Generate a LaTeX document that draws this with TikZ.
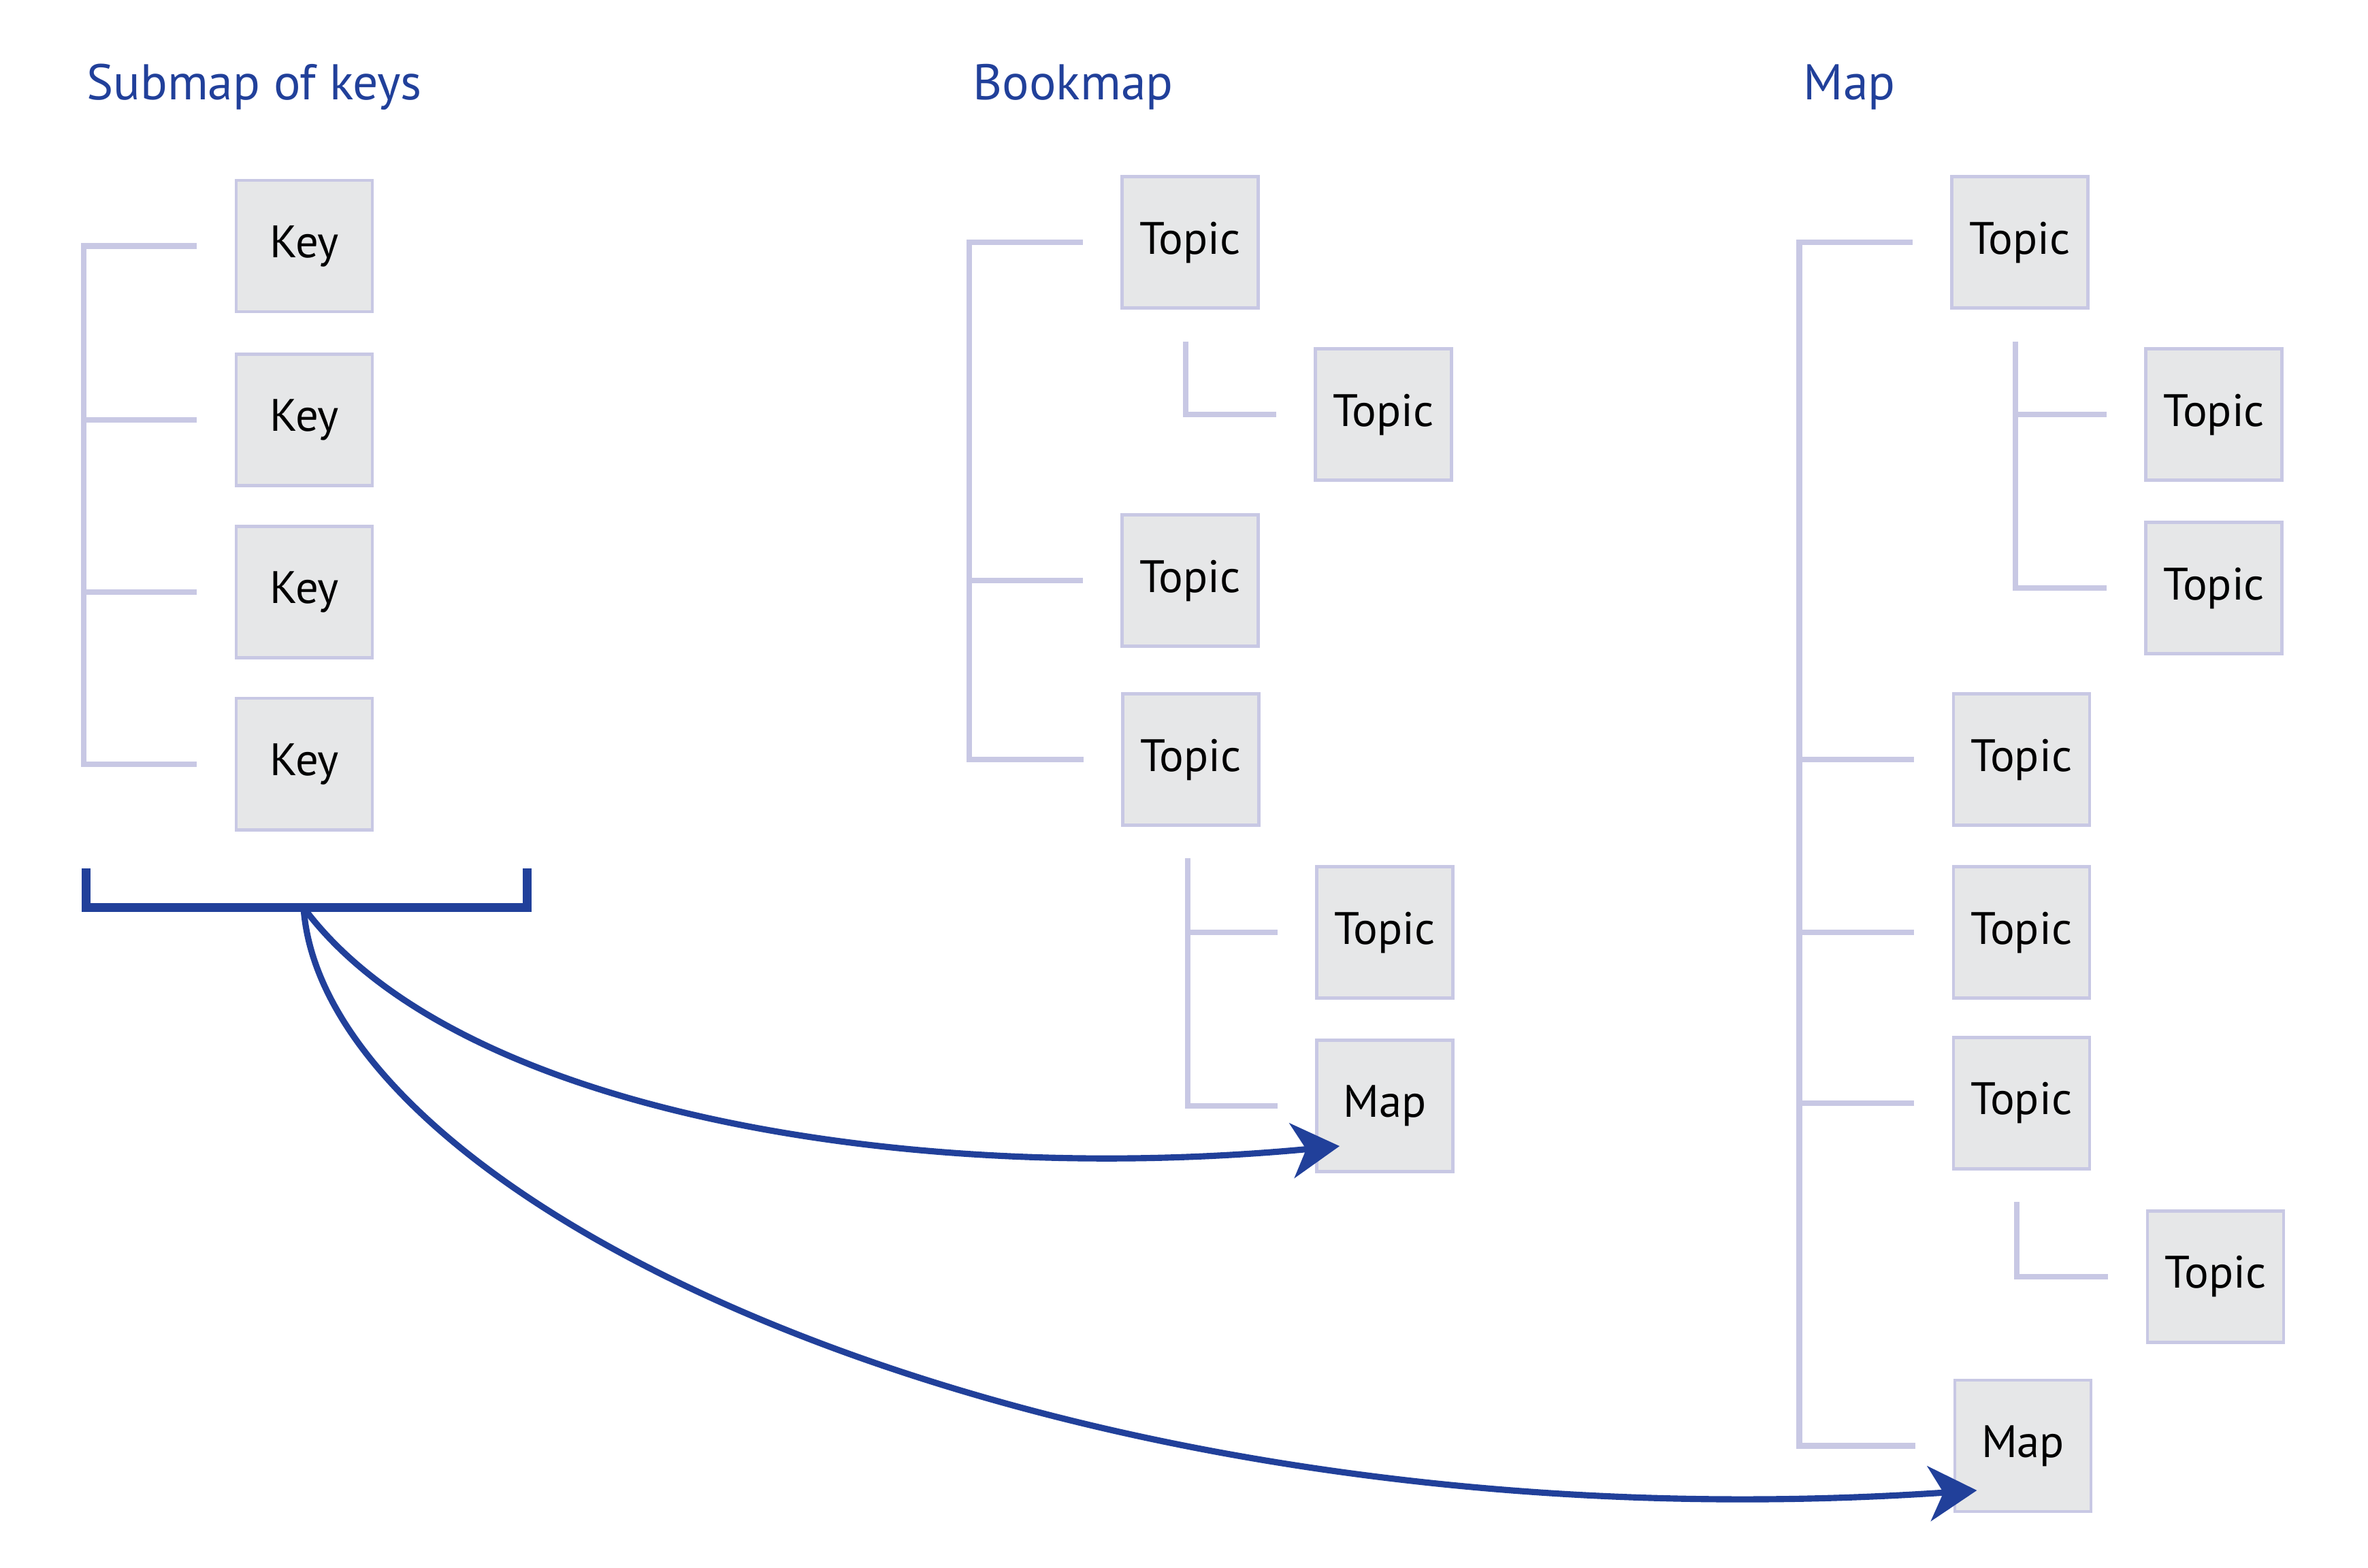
\documentclass[tikz,border=0pt]{standalone}
\usepackage{fontspec}
\setmainfont{PT Sans}
\usetikzlibrary{arrows.meta,calc}
\definecolor{lila}{HTML}{C8C8E4}
\definecolor{grau}{HTML}{E6E7E8}
\definecolor{dblau}{HTML}{21409A}
\tikzset{
  box/.style={draw=lila,fill=grau,line width=1.3pt,minimum width=2cm,minimum height=1.93cm,inner sep=0pt,font=\fontsize{19}{21}\selectfont},
  tree/.style={draw=lila,line width=2.4pt},
  title/.style={anchor=base west,inner sep=0pt,text=dblau,font=\fontsize{21}{24}\selectfont},
  link/.style={draw=dblau,line width=2.6pt,-{Stealth[length=20pt,width=23pt,inset=6pt]}}
}
\begin{document}
\begin{tikzpicture}[x=0.0221875cm,y=-0.0221875cm]
  \useasboundingbox (0,0) rectangle (1568,1038);
  % Ueberschriften
  \node[title] (t1) at (57,66) {Submap of keys};
  \node[title] (t2) at (644,66) {Bookmap};
  \node[title] (t3) at (1194,66) {Map};
  % Spalte 1: Keys
  \foreach \n/\y in {1/163,2/278,3/392,4/506}
    \node[box] (k\n) at (201.5,\y) {Key};
  % Spalte 2: Bookmap
  \node[box] (b1) at (788,160.5) {Topic};
  \node[box] (b2) at (916,274.5) {Topic};
  \node[box] (b3) at (788,384.5) {Topic};
  \node[box] (b4) at (788.5,503) {Topic};
  \node[box] (b5) at (917,617.5) {Topic};
  \node[box] (b6) at (917,732.5) {Map};
  % Spalte 3: Map
  \node[box] (m1) at (1337.5,160.5) {Topic};
  \node[box] (m2) at (1466,274.5) {Topic};
  \node[box] (m3) at (1466,389.5) {Topic};
  \node[box] (m4) at (1338.5,503) {Topic};
  \node[box] (m5) at (1338.5,617.5) {Topic};
  \node[box] (m6) at (1338.5,730.5) {Topic};
  \node[box] (m7) at (1467,845.5) {Topic};
  \node[box] (m8) at (1339.5,957.5) {Map};
  % Baumlinien
  \draw[tree] ($(k1.west)+(-25,0)$) -- ++(-75,0) |- ($(k4.west)+(-25,0)$);
  \foreach \n in {2,3}
    \draw[tree] ($(k\n.west)+(-25,0)$) -- ++(-75,0);
  \draw[tree] ($(b1.west)+(-25,0)$) -- ++(-75,0) |- ($(b4.west)+(-25,0)$);
  \draw[tree] ($(b3.west)+(-25,0)$) -- ++(-75,0);
  \draw[tree] ($(b1.south)+(-3,21)$) |- ($(b2.west)+(-25,0)$);
  \draw[tree] ($(b4.south)+(-2,21)$) |- ($(b6.west)+(-25,0)$);
  \draw[tree] ($(b5.west)+(-25,0)$) -- ++(-61,0);
  \draw[tree] ($(m1.west)+(-25,0)$) -- ++(-75,0) |- ($(m8.west)+(-25,0)$);
  \foreach \n in {4,5,6}
    \draw[tree] ($(m\n.west)+(-25,0)$) -- ++(-75,0);
  \draw[tree] ($(m1.south)+(-3,21)$) |- ($(m3.west)+(-25,0)$);
  \draw[tree] ($(m2.west)+(-25,0)$) -- ++(-62,0);
  \draw[tree] ($(m6.south)+(-3,21)$) |- ($(m7.west)+(-25,0)$);
  % Klammer und Pfeile
  \coordinate (brl) at (57,575);
  \coordinate (brr) at (349,575);
  \coordinate (src) at (201,601);
  \coordinate (tipA) at (887,759);
  \coordinate (tipB) at (1309,987);
  \draw[dblau,line width=3.6pt] (brl) |- (src) -| (brr);
  \draw[link] (src) .. controls (301,736) and (600,786) .. (tipA);
  \draw[link] (src) .. controls (215,800) and (700,1028) .. (tipB);
\end{tikzpicture}
\end{document}
